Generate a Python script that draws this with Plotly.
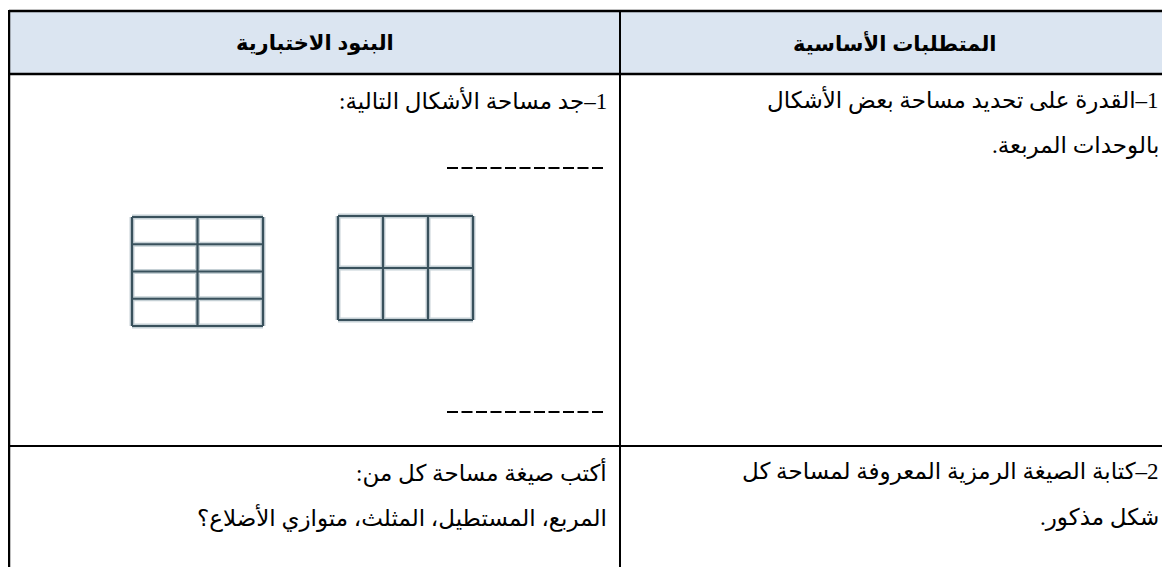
import plotly.graph_objects as go

# ---------------- data ----------------
header_labels = ["البنود الاختبارية", "المتطلبات الأساسية"]          # left column, right column
row1_requirement = ["1–القدرة على تحديد مساحة بعض الأشكال", "بالوحدات المربعة."]
row1_item = ["1–جد مساحة الأشكال التالية:"]
row2_requirement = ["2–كتابة الصيغة الرمزية المعروفة لمساحة كل", "شكل مذكور."]
row2_item = ["أكتب صيغة مساحة كل من:", "المربع، المستطيل، المثلث، متوازي الأضلاع؟"]
grid_cols = [2, 3]     # unit squares per row in each drawn figure
grid_rows = [4, 2]     # unit squares per column in each drawn figure

# ---------------- layout constants ----------------
W, H = 1170, 567
OFF = 8                      # page body margin compensation
X_LEFT, X_MID, X_RIGHT = 9, 620, 1185
Y_TOP, Y_HEAD, Y_ROW2 = 11, 74, 446
HEAD_BG = "#DBE5F1"
LINE = "black"
RLM = "\u200f"
TXT_FONT = "Times New Roman, Liberation Serif, DejaVu Sans, serif"
HEAD_FONT = "Arial, Liberation Sans, DejaVu Sans, sans-serif"
GRID_BOXES = [(132, 263, 217, 326), (338, 473, 216, 320)]
GRID_COLOR = "#2A4450"

fig = go.Figure()

# drawn unit-square figures (soft halo + core stroke to mimic a scanned drawing)
for (x0, x1, y0, y1), nc, nr in zip(GRID_BOXES, grid_cols, grid_rows):
    xs, ys = [], []
    for i in range(nc + 1):
        x = x0 + (x1 - x0) * i / nc
        xs += [x, x, None]
        ys += [y0, y1, None]
    for j in range(nr + 1):
        y = y0 + (y1 - y0) * j / nr
        xs += [x0, x1, None]
        ys += [y, y, None]
    fig.add_trace(go.Scatter(x=xs, y=ys, mode="lines",
                             line=dict(color="#7F98A3", width=5),
                             opacity=0.45, hoverinfo="skip", showlegend=False))
    fig.add_trace(go.Scatter(x=xs, y=ys, mode="lines",
                             line=dict(color=GRID_COLOR, width=2.2),
                             opacity=0.9, hoverinfo="skip", showlegend=False))

shapes = []
# header background
shapes.append(dict(type="rect", xref="x", yref="y", x0=X_LEFT, x1=X_RIGHT, y0=Y_TOP, y1=Y_HEAD,
                   fillcolor=HEAD_BG, line=dict(width=0), layer="below"))
# borders
for (x0, y0, x1, y1, w) in [
    (X_LEFT, Y_TOP, X_RIGHT, Y_TOP, 2.5),
    (X_LEFT, Y_HEAD, X_RIGHT, Y_HEAD, 2.5),
    (X_LEFT, Y_ROW2, X_RIGHT, Y_ROW2, 2),
    (X_LEFT, Y_TOP - 1, X_LEFT, H + 20, 2.5),
    (X_MID, Y_TOP, X_MID, H + 20, 2),
]:
    shapes.append(dict(type="line", xref="x", yref="y", x0=x0, y0=y0, x1=x1, y1=y1,
                       line=dict(color=LINE, width=w)))
# answer lines (dashed blanks)
for y in [168, 412]:
    shapes.append(dict(type="line", xref="x", yref="y", x0=447, x1=603, y0=y, y1=y,
                       line=dict(color=LINE, width=2, dash="11px,3.5px")))

annotations = []
# headers
for label, cx in zip(header_labels, [(X_LEFT + X_MID) / 2, (X_MID + 1170) / 2]):
    annotations.append(dict(x=cx, y=(Y_TOP + Y_HEAD) / 2, xref="x", yref="y",
                            text="<b>" + RLM + label + RLM + "</b>", showarrow=False,
                            xanchor="center", yanchor="middle",
                            font=dict(family=HEAD_FONT, size=21, color="black")))


def add_lines(lines, x_right, y_first, step=46):
    for k, t in enumerate(lines):
        annotations.append(dict(x=x_right, y=y_first + k * step, xref="x", yref="y",
                                text=RLM + t + RLM, showarrow=False,
                                xanchor="right", yanchor="middle",
                                font=dict(family=TXT_FONT, size=23, color="black")))


add_lines(row1_requirement, 1161, 100)
add_lines(row1_item, 609, 100)
add_lines(row2_requirement, 1161, 472)
add_lines(row2_item, 609, 472)

fig.update_layout(
    width=W, height=H,
    margin=dict(l=0, r=0, t=0, b=0),
    paper_bgcolor="white", plot_bgcolor="white",
    xaxis=dict(range=[OFF, W + OFF], visible=False, fixedrange=True),
    yaxis=dict(range=[H + OFF, OFF], visible=False, fixedrange=True),
    shapes=shapes, annotations=annotations,
    showlegend=False,
)

fig.write_html("out.html")
